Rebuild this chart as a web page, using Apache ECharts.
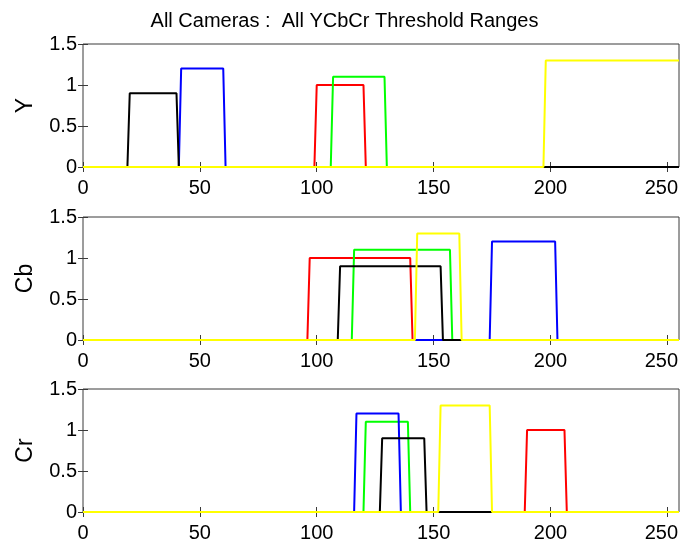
<!DOCTYPE html>
<html>
<head>
<meta charset="utf-8">
<script src="https://cdn.jsdelivr.net/npm/echarts@6/dist/echarts.min.js"></script>
<style>
  html, body { margin: 0; padding: 0; background: #fff; }
  #chart { width: 689px; height: 545px; }
</style>
</head>
<body>
<div id="chart"></div>
<script>
// Threshold windows for each camera across the three YCbCr channels.
const titleText = 'All Cameras :  All YCbCr Threshold Ranges';
const channelNames = ['Y', 'Cb', 'Cr'];
const xTicks = [0, 50, 100, 150, 200, 250];
const yTicks = [0, 0.5, 1, 1.5];

// Camera order (drawing order) with their colours and plateau heights
const cameraColors = ['#ff0000', '#00ff00', '#0000ff', '#000000', '#ffff00'];
const cameraHeights = [1.0, 1.1, 1.2, 0.9, 1.3];

// [low, high] of each camera's accepted range, per channel
const yRanges  = [[100, 120], [107, 129], [42, 60],   [20, 40],   [198, 255]];
const cbRanges = [[97, 140],  [116, 157], [175, 202], [110, 153], [143, 161]];
const crRanges = [[190, 206], [121, 139], [117, 135], [128, 146], [153, 174]];

const channelRanges = [yRanges, cbRanges, crRanges];
const X_MAX = 255;

// Indicator curve: zero outside [lo, hi], height h inside
function windowPoints(range, h) {
  const lo = range[0], hi = range[1];
  const pts = [[0, 0], [lo - 1, 0], [lo, h], [hi, h]];
  if (hi < X_MAX) { pts.push([hi + 1, 0], [X_MAX, 0]); }
  return pts;
}

const FONT = 'Liberation Sans, Arial, Helvetica, sans-serif';
const AXIS_COLOR = '#3a3a3a';
const gridTops = [44, 217, 389];
const gridHeight = 123;
const lastTick = xTicks[xTicks.length - 1];

const grids = [], xAxes = [], yAxes = [], series = [];
gridTops.forEach(function (top, g) {
  grids.push({ left: 83, right: 10, top: top, height: gridHeight,
    show: true, borderColor: AXIS_COLOR, borderWidth: 1, backgroundColor: '#fff' });
  const tickStyle = { show: true, inside: true, length: 5, lineStyle: { color: AXIS_COLOR, width: 1 } };
  // bottom axis with labels, top axis mirrors ticks only
  xAxes.push({ type: 'value', gridIndex: g, min: 0, max: X_MAX, position: 'bottom',
    axisLine: { show: false }, splitLine: { show: false },
    axisTick: Object.assign({ customValues: xTicks }, tickStyle),
    axisLabel: { customValues: xTicks, color: '#000', fontSize: 20, fontFamily: FONT, margin: 11,
      // the last label sits a little left of its tick
      formatter: function (v) { return v === lastTick ? '{end|' + v + '}' : String(v); },
      rich: { end: { fontSize: 20, fontFamily: FONT, color: '#000', padding: [0, 12, 0, 0] } } } });
  xAxes.push({ type: 'value', gridIndex: g, min: 0, max: X_MAX, position: 'top',
    axisLine: { show: false }, splitLine: { show: false },
    axisTick: Object.assign({ customValues: xTicks }, tickStyle),
    axisLabel: { show: false } });
  yAxes.push({ type: 'value', gridIndex: g, min: 0, max: 1.5, position: 'left',
    name: channelNames[g], nameLocation: 'middle', nameRotate: 90, nameGap: 46,
    nameTextStyle: { color: '#000', fontSize: 23, fontFamily: FONT },
    axisLine: { show: false }, splitLine: { show: false },
    axisTick: Object.assign({ customValues: yTicks }, tickStyle),
    axisLabel: { customValues: yTicks, color: '#000', fontSize: 20, fontFamily: FONT, margin: 6 } });
  yAxes.push({ type: 'value', gridIndex: g, min: 0, max: 1.5, position: 'right',
    axisLine: { show: false }, splitLine: { show: false },
    axisTick: Object.assign({ customValues: yTicks }, tickStyle), axisLabel: { show: false } });

  channelRanges[g].forEach(function (range, c) {
    series.push({
      type: 'line', xAxisIndex: g * 2, yAxisIndex: g * 2,
      data: windowPoints(range, cameraHeights[c]),
      showSymbol: false, symbol: 'none', animation: false,
      lineStyle: { color: cameraColors[c], width: 2 },
      z: 2 + c
    });
  });
});

const chart = echarts.init(document.getElementById('chart'));
chart.setOption({
  backgroundColor: '#fff',
  animation: false,
  title: { text: titleText, left: 'center', top: 6,
    textStyle: { color: '#000', fontSize: 20, fontWeight: 'normal', fontFamily: FONT } },
  grid: grids,
  xAxis: xAxes,
  yAxis: yAxes,
  series: series
});
</script>
</body>
</html>
